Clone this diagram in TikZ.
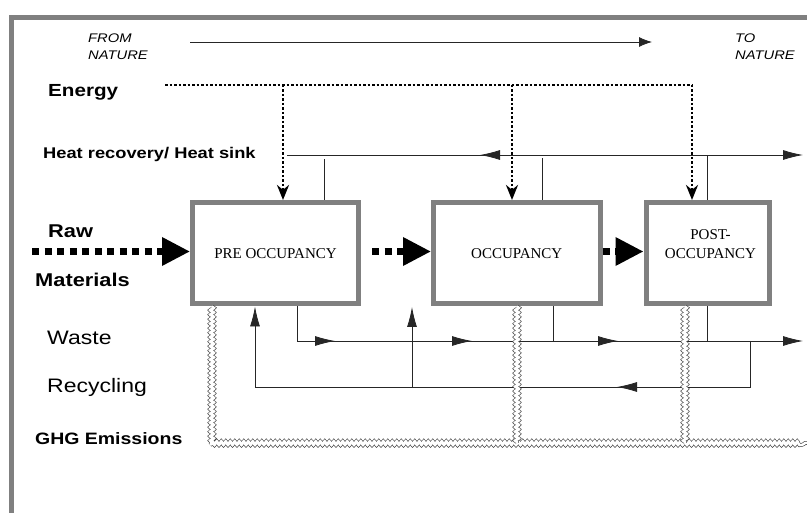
\documentclass[tikz,border=0pt]{standalone}
\usepackage{fontspec}
\setmainfont{Liberation Serif}
\newfontfamily\lblfont[FakeStretch=1.18]{Liberation Sans}
\usetikzlibrary{arrows.meta,positioning,decorations.markings,decorations.pathmorphing}

\begin{document}
\begin{tikzpicture}[
    x=1pt, y=-1pt,
    stage/.style={draw=black!50, line width=5pt, inner sep=0pt, minimum height=101.5pt, align=center, font=\fontsize{15}{19}\selectfont},
    flow/.style={draw=black!85, line width=0.8pt},
    tip/.style={-{Latex[length=20pt,width=10pt]}},
    midtip/.style={postaction={decorate, decoration={markings, mark=at position #1 with {\arrow{Latex[length=20pt,width=10pt]}}}}},
    midtipback/.style={postaction={decorate, decoration={markings, mark=at position #1 with {\arrowreversed{Latex[length=20pt,width=10pt]}}}}},
    energyline/.style={line width=2.5pt, dash pattern=on 2.5pt off 2pt},
    energytip/.style={-{Stealth[length=15pt,width=12pt]}},
    material/.style={line width=6.5pt, dash pattern=on 7pt off 5.5pt, -{Triangle[length=28pt,width=27pt]}},
    wavy/.style={draw=black!75, line width=0.6pt, double=white, double distance=2.5pt, decorate, decoration={snake, segment length=4.5pt, amplitude=2pt}},
    frame/.style={draw=black!50, line width=5pt},
    lbl/.style={anchor=base west, inner sep=0pt, font=\lblfont\bfseries\fontsize{#1}{#1}\selectfont},
    plain/.style={anchor=base west, inner sep=0pt, font=\lblfont\fontsize{#1}{#1}\selectfont},
    nature/.style={anchor=base west, inner sep=0pt, align=left, font=\lblfont\itshape\fontsize{12.5}{17}\selectfont}
]
\useasboundingbox (0,0) rectangle (807,513);

% frame
\coordinate (fb) at (11.5,513);
\coordinate (ft) at (807,18);
\draw[frame] (fb) |- (ft);

% from nature / to nature
\node[nature] (from) at (88,60) {FROM\\NATURE};
\node[nature] (to) at (735,60) {TO\\NATURE};
\coordinate (nat0) at (190,42);
\coordinate (nat1) at (652,42);
\draw[flow, -{Latex[length=13pt,width=10pt]}] (nat0) -- (nat1);

% labels on the left
\node[lbl=17.5] (energy) at (48,97) {Energy};
\node[lbl=15.5] (heat) at (43,159) {Heat recovery/ Heat sink};
\node[lbl=18.5] (raw) at (48,238) {Raw};
\node[lbl=18.5] (materials) at (35,287) {Materials};
\node[plain=19.5] (waste) at (47,345) {Waste};
\node[plain=19.5] (recycling) at (47,393) {Recycling};
\node[lbl=16.5] (ghg) at (35,445) {GHG Emissions};

% stages
\node[stage, minimum width=166pt] (pre) at (275.5,253.25) {PRE OCCUPANCY};
\node[stage, minimum width=166.5pt, right=70pt of pre] (occ) {OCCUPANCY};
\node[stage, minimum width=123pt, right=41pt of occ] (post) {};
\node[inner sep=0pt, align=center, font=\fontsize{15}{19}\selectfont] (postlbl) at ([xshift=3pt,yshift=9.5pt]post.center) {POST-\\OCCUPANCY};

% raw materials
\coordinate (raw0) at (32,251.5);
\draw[material] (raw0) -- (raw0 -| pre.west);
\draw[material] ([xshift=11pt]pre.east |- raw0) -- (occ.west |- raw0);
\draw[material] (occ.east |- raw0) -- (post.west |- raw0);

% energy
\coordinate (e0) at (165,85);
\coordinate (e1) at (283,85);
\coordinate (e2) at (512,85);
\coordinate (e3) at (692,85);
\draw[energyline] (e0) -- (e3);
\foreach \e/\b in {e1/pre, e2/occ, e3/post}
    \draw[energyline, energytip] (\e) -- (\b.north -| \e);

% heat recovery / heat sink
\coordinate (hs) at (287,155);
\coordinate (he) at (803,155);
\draw[flow, tip, midtipback=193pt] (hs) -- (he);
\coordinate (h1) at (324,159);
\coordinate (h2) at (542,158);
\coordinate (h3) at (707,155);
\foreach \h/\b in {h1/pre, h2/occ, h3/post}
    \draw[flow] (\b.north -| \h) -- (\h);

% waste
\coordinate (wa) at (297,341);
\coordinate (we) at (803,341);
\draw[flow, tip, midtip=72.5pt, midtip=209.5pt, midtip=355.5pt] (pre.south -| wa) -- (wa) -- (we);
\coordinate (wo) at (553,341);
\coordinate (wp) at (707,341);
\draw[flow] (occ.south -| wo) -- (wo);
\draw[flow] (post.south -| wp) -- (wp);

% recycling
\coordinate (r0) at (750,341);
\coordinate (r1) at (750,387);
\coordinate (r2) at (255,387);
\coordinate (rb) at (412,387);
\coordinate (rbt) at (412,307);
\draw[flow, tip, midtip=179pt] (r0) -- (r1) -- (r2) -- (pre.south -| r2);
\draw[flow, tip] (rb) -- (rbt);

% GHG emissions
\coordinate (g0) at (212,443);
\coordinate (gend) at (807,443);
\coordinate (g1) at (517,443);
\coordinate (g2) at (685,443);
\draw[wavy] (pre.south -| g0) -- (g0) -- (gend);
\draw[wavy] (occ.south -| g1) -- (g1);
\draw[wavy] (post.south -| g2) -- (g2);

\end{tikzpicture}
\end{document}
